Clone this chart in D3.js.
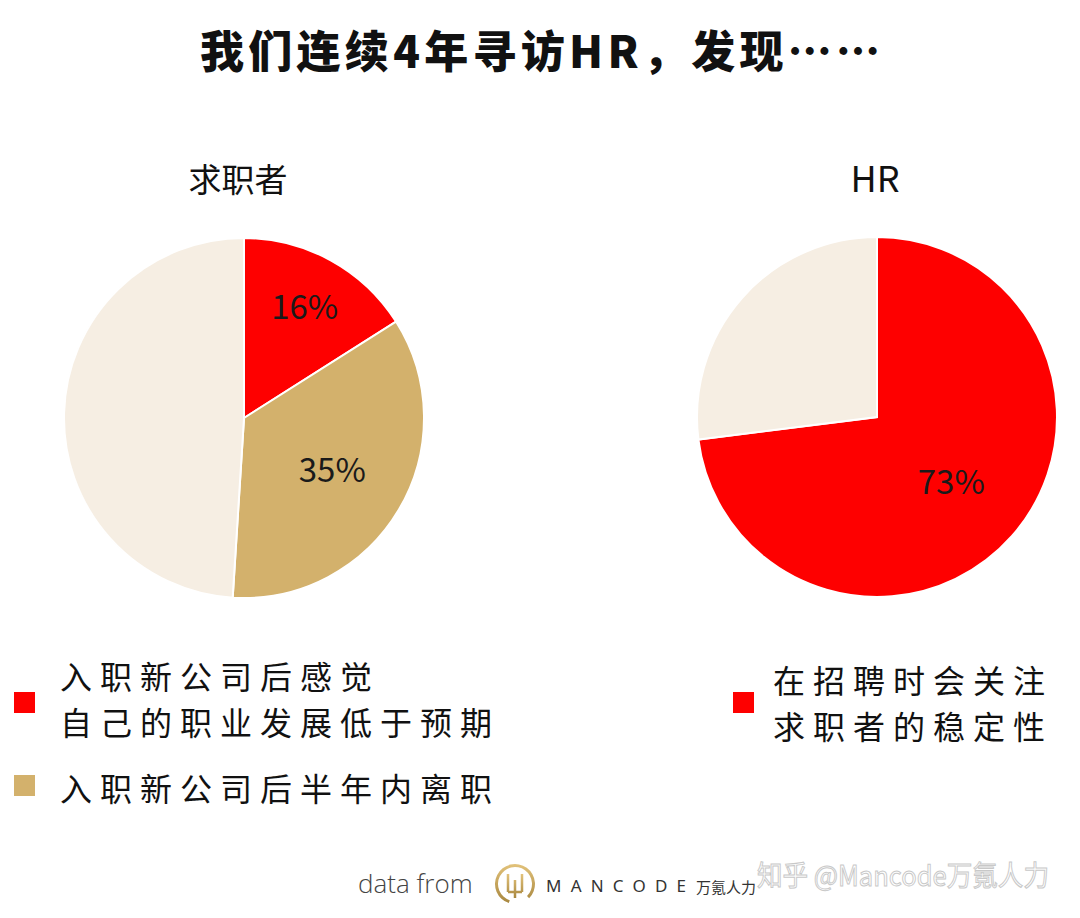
<!DOCTYPE html>
<html><head><meta charset="utf-8">
<script src="https://cdn.jsdelivr.net/npm/d3@7/dist/d3.min.js"></script>
<style>body{margin:0;background:#fff}svg{display:block}</style>
</head><body>
<script>
const titleText = "我们连续4年寻访HR，发现……";
const leftTitle = "求职者";
const rightTitle = "HR";
const leftCategories = ["低于预期", "半年内离职", "其他"];
const leftValues = [16, 35, 49];
const rightCategories = ["关注稳定性", "其他"];
const rightValues = [73, 27];
const leftLabels = ["16%", "35%", null];
const rightLabels = ["73%", null];
const legendLeft = [["入职新公司后感觉", "自己的职业发展低于预期"], ["入职新公司后半年内离职"]];
const legendRight = [["在招聘时会关注", "求职者的稳定性"]];

const W = 1080, H = 918;
const RED = "#fe0000", TAN = "#d3b16c", CREAM = "#f6eee3";
const svg = d3.select("body").append("svg").attr("width", W).attr("height", H);
const CJK = "'Noto Sans CJK SC','Noto Sans',sans-serif";

svg.append("text").attr("x", 200).attr("y", 68).attr("textLength", 680).attr("lengthAdjust", "spacing")
  .attr("font-family", CJK).attr("font-weight", 900).attr("font-size", 44).attr("fill", "#111").text(titleText);

svg.append("text").attr("x", 238).attr("y", 192).attr("text-anchor", "middle")
  .attr("font-family", CJK).attr("font-size", 33).attr("fill", "#111").text(leftTitle);
svg.append("text").attr("x", 875).attr("y", 192).attr("text-anchor", "middle")
  .attr("font-family", CJK).attr("font-size", 36).attr("fill", "#111").text(rightTitle);

function drawPie(cx, cy, r, values, colors, labels, labelPos) {
  const pie = d3.pie().sort(null).value(d => d)(values);
  const arc = d3.arc().innerRadius(0).outerRadius(r);
  const g = svg.append("g").attr("transform", `translate(${cx},${cy})`);
  g.selectAll("path").data(pie).join("path").attr("d", arc)
    .attr("fill", (d, i) => colors[i]).attr("stroke", "#fff").attr("stroke-width", 2);
  g.selectAll("text").data(pie.filter((d, i) => labels[i])).join("text")
    .attr("transform", d => {
      const f = labelPos[d.index];
      const c = d3.arc().innerRadius(r * f).outerRadius(r * f).centroid(d);
      return `translate(${c[0]},${c[1]})`; })
    .attr("text-anchor", "middle").attr("dy", "0.36em")
    .attr("font-family", CJK).attr("font-size", 33).attr("fill", "#1a1a1a")
    .text(d => labels[d.index]);
}
drawPie(244, 418, 180, leftValues, [RED, TAN, CREAM], leftLabels, [0.7, 0.57]);
drawPie(877, 417, 180, rightValues, [RED, CREAM], rightLabels, [0.55]);

function legendItem(x, sqY, textX, lines, firstBaseline, color) {
  svg.append("rect").attr("x", x).attr("y", sqY).attr("width", 21).attr("height", 21).attr("fill", color);
  lines.forEach((t, i) => svg.append("text").attr("x", textX).attr("y", firstBaseline + i * 46)
    .attr("font-family", CJK).attr("font-size", 32).attr("letter-spacing", 8).attr("fill", "#111").text(t));
}
legendItem(14, 692, 60, legendLeft[0], 689, RED);
legendItem(14, 775, 60, legendLeft[1], 801, TAN);
legendItem(733, 692, 773, legendRight[0], 693, RED);

// footer
svg.append("text").attr("x", 358).attr("y", 893).attr("font-family", "'Open Sans','Noto Sans',sans-serif")
  .attr("font-weight", 300).attr("font-size", 26).attr("fill", "#444").text("data from");
const defs = svg.append("defs");
const gr = defs.append("linearGradient").attr("id", "gold").attr("x1", 0).attr("y1", 0).attr("x2", 0).attr("y2", 1);
gr.append("stop").attr("offset", 0).attr("stop-color", "#e2c27a");
gr.append("stop").attr("offset", 1).attr("stop-color", "#a8873f");
const logo = svg.append("g").attr("transform", "translate(515,884)");
logo.append("path").attr("d", d3.arc().innerRadius(17).outerRadius(20).startAngle(-Math.PI * 0.9).endAngle(Math.PI * 0.75)())
  .attr("fill", "url(#gold)");
logo.append("path").attr("d", "M-7,-10 V8 M0,-4 V14 M7,-10 V8 M-7,8 H7").attr("stroke", "url(#gold)")
  .attr("stroke-width", 2.5).attr("fill", "none");
svg.append("text").attr("x", 546).attr("y", 892).attr("textLength", 140).attr("lengthAdjust", "spacing")
  .attr("font-family", "'Noto Sans',sans-serif")
  .attr("font-size", 17).attr("fill", "#333").text("MANCODE");
svg.append("text").attr("x", 696).attr("y", 893).attr("font-family", CJK)
  .attr("font-size", 15).attr("fill", "#333").text("万氪人力");
svg.append("text").attr("x", 757).attr("y", 886).attr("textLength", 292).attr("lengthAdjust", "spacingAndGlyphs")
  .attr("font-family", CJK)
  .attr("font-size", 28).attr("fill", "#fff").attr("stroke", "#c8c8c8").attr("stroke-width", 1)
  .attr("fill-opacity", 0.6).text("知乎 @Mancode万氪人力");
</script>
</body></html>
